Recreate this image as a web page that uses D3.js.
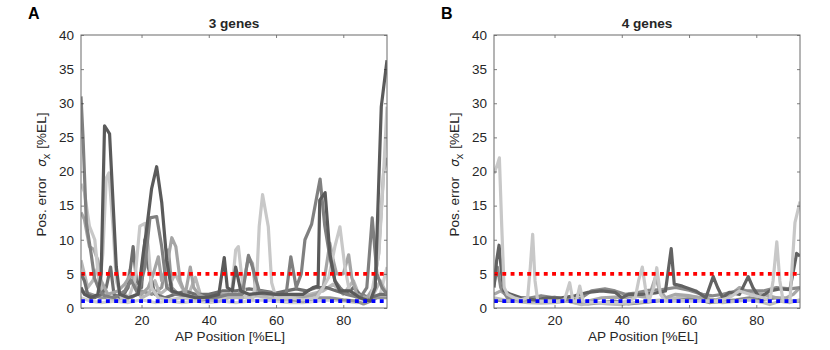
<!DOCTYPE html>
<html>
<head>
<meta charset="utf-8">
<script src="https://cdn.jsdelivr.net/npm/d3@7"></script>
<style>
  body { margin: 0; background: #fff; }
  svg { font-family: "Liberation Sans", Arial, Helvetica, sans-serif; }
  .tick text { fill: #262626; font-size: 13.5px; }
  .lbl { fill: #262626; font-size: 13.6px; }
</style>
</head>
<body>
<svg id="chart" width="830" height="350"></svg>
<script>
// axis ticks
var xTicks = [20, 40, 60, 80];
var yTicks = [0, 5, 10, 15, 20, 25, 30, 35, 40];
var titles = ["3 genes", "4 genes"];
var letters = ["A", "B"];
var redLevel = 5, blueLevel = 1;

// 3 genes: [AP position, error] vertices
var a1 = [[2,3],[3,2],[5,1.5],[7,2],[8,5],[9,26.7],[10.5,25.5],[12.5,6],[13.5,2],[16,1.5],[19,2],[20.5,8],[21.5,11.5],[23,17.5],[24.5,20.7],[26,15.5],[27.5,7],[29,2.5],[32,2],[36,1.5],[40,1.6],[43,2],[44.6,7.4],[45.5,3],[47,2.5],[48,6],[49.5,2.5],[52,2],[56,2.2],[60,2],[64,2],[68,2],[71,3],[72.5,3.2],[73,15.8],[74.6,16.9],[76,8],[77.5,4],[79,2.5],[82,2.5],[85,1.5],[88,1],[89.5,3],[91.3,29.5],[93,36.3]];
var a2 = [[2,31],[2.6,25],[3.6,12.4],[5,8],[6,4.4],[7.5,2.5],[9,1.8],[12,1.5],[15,2.5],[17,4],[19,2],[21,6],[22.5,13.2],[24.5,13.4],[26,9],[27.5,3],[30,2],[34,1.8],[38,1.5],[42,1.5],[46,2],[50,2],[51.8,7.7],[53,6],[55,2.5],[60,2],[63,2],[64.4,7.5],[66,3],[67.5,5],[68.6,10],[70.6,12.3],[73.1,18.9],[74.5,12],[76,7.5],[77.5,4],[79,3],[81,2],[85,1.5],[87,3],[88.6,13.2],[90,5],[91.5,3],[93,2]];
var a3 = [[2,18.2],[3,17],[4.5,12],[6.1,10],[7.5,3],[8.5,8],[9.5,19],[10.3,19.8],[11.5,12],[12.5,4],[14,1.5],[16,1.2],[18,4],[19.5,12],[21,12.4],[22,9],[23,3],[25,1.5],[28,1.2],[32,1.5],[36,1.2],[40,1.5],[44,1.5],[46.8,2.2],[48,8.5],[48.8,9],[49.8,4.6],[51,1.5],[53,1.2],[54.3,4.6],[55,12],[56,16.6],[57.7,11.9],[58.7,3.7],[60,1.5],[64,1.5],[68,1.2],[72,1.5],[74,3],[75.7,4.5],[77.5,9],[79,11.9],[80.4,6.3],[81.8,2.5],[84,1.5],[88,1],[90.6,8],[91.8,18],[93,29.5]];
var a4 = [[2,14],[3,13],[4.5,9],[5.8,8.6],[7,7],[8,4],[10,2],[13,2.5],[15,3.5],[17,5],[18.5,3],[20,2],[22,3],[23.5,5],[25,7.5],[26,4],[27.5,6],[29,10.3],[30.2,9],[31.5,4],[33,2],[34.5,6],[35.5,3],[37,2],[39,1.5],[41,1.5],[44,2],[47,2],[49,2],[50.5,4],[51.8,7.5],[53,6.5],[54,2.5],[57,2],[61,2],[64,1.5],[68,1.5],[72,2],[74,3],[76,9.5],[77,7],[78,5],[80,5],[81.6,7.8],[82.5,4.5],[84,2],[87,1.5],[89,3],[90.5,8],[92,20],[93,22]];
var a5 = [[2,5],[3,4],[4,2],[6,1.5],[8,2],[9.5,3],[10.8,6],[11.8,2],[14,1.5],[16,3],[17.5,9],[18.5,4],[20,3],[21,10],[22,6],[24,2],[27,1.5],[30,2],[33,2.5],[36,2],[40,2],[44,2.5],[48,2.5],[52,2.8],[56,2.5],[60,2.2],[63,2.5],[66,2.8],[69,2.5],[72,3],[75,3],[78,2.5],[81,2],[83,3],[85,2],[88,1.5],[91,2],[93,2]];
var a6 = [[2,7],[3,5],[4,3],[5.5,4],[7,6],[8,3],[10,1.5],[13,1.2],[15,2],[16.5,5.5],[18,3],[20,1.5],[22,2],[24,4],[25.5,2],[28,3],[30,5],[32,3],[34,2],[36,4.5],[37.5,2],[40,1.2],[43,1],[46,1.5],[50,1.5],[54,1.8],[58,1.5],[62,1.2],[66,1.5],[70,2],[74,2.5],[77,3.5],[80,2],[83,4],[85,1.5],[87,1],[89,2],[91,4],[93,2]];
var a7 = [[2,2.5],[5,2],[8,1.5],[11,1.5],[14,2],[17,1.5],[20,2.5],[23,2],[26,3],[28,8.5],[29,3],[31,2],[34,1.5],[38,1.2],[42,1.5],[46,1.8],[50,1.5],[54,1.8],[58,2],[62,1.5],[65,1.2],[68,1],[72,1.5],[76,1.5],[80,1.2],[84,1],[86,0.6],[88,1],[90,1.5],[93,1.5]];
var a8 = [[2,1.5],[5,1],[8,0.8],[12,1],[16,0.8],[20,1.2],[24,0.8],[28,1],[32,0.8],[36,1],[40,0.8],[44,1],[48,0.8],[52,1],[56,1.2],[60,1],[64,0.8],[68,0.8],[72,1],[76,1.2],[80,1],[84,0.8],[88,1],[91,2],[93,6]];

// 4 genes
var b1 = [[2,19.7],[3,21],[3.6,22],[4.3,12],[5,3],[6,2],[8,1.5],[10,1.2],[12,1.5],[12.8,6],[13.5,10.8],[14.2,4],[15,1],[18,1],[21,1],[23,1.2],[24.5,3.7],[25.5,1],[26.5,1],[27.5,3.2],[28.5,1],[31,0.8],[35,0.8],[39,0.8],[42,1],[44,1.5],[45,4],[46.1,6],[47,3],[48,1],[49.5,3],[50.4,5.9],[51.5,2],[53,1],[56,1],[60,1],[64,1],[68,1],[72,1.5],[75,2.5],[78,2],[82,1.5],[84,1],[85,4],[86.1,9.7],[87,4],[88,1],[90,1],[91.5,12.5],[93,15.6]];
var b2 = [[2,3],[2.8,7],[3.5,9.2],[4.3,5],[5,2.5],[7,2],[10,1.5],[14,1.2],[18,1.5],[22,1.5],[26,1.8],[30,2.3],[34,2.5],[38,2.3],[40,1.5],[42,2],[46,2],[50,2.2],[53,2.5],[54.7,8.7],[55.6,3.5],[58,3.2],[62,2.5],[65,1.5],[67.2,4.6],[68.5,3],[70,1.5],[72,2.3],[75,2],[77.6,4.6],[79,3],[81,1.5],[84,2.5],[87,2.8],[90,2.7],[92,8],[93,7.6]];
var b3 = [[2,3.5],[3,6],[4,3],[6,1.5],[9,1.5],[13,1.5],[16,1.8],[20,1.5],[25,1.2],[28,1.5],[31,2.5],[35,2.8],[38,2.5],[41,2],[44,2.2],[48,2.6],[52,2.7],[56,3],[60,2.6],[64,2],[67,1.8],[70,2],[74,2.5],[78,2.5],[82,2.5],[86,3],[90,2.8],[93,3]];
var b4 = [[2,2],[4,2.5],[6,1.8],[9,1.2],[12,1],[16,1.2],[20,1.6],[24,1],[27,0.8],[30,1],[34,1.5],[38,1.6],[41,1.5],[44,1.8],[48,1.5],[50,4.5],[51,3],[53,1.5],[56,2],[60,1.8],[64,1.5],[68,1.2],[72,1.8],[75,3],[78,2.2],[82,2],[86,1.5],[89,1.5],[91,2],[93,3]];
var b5 = [[2,1.5],[5,1.2],[8,1],[12,0.8],[16,0.7],[20,0.8],[24,1],[28,0.5],[32,0.8],[36,0.6],[40,0.5],[44,0.8],[48,1],[52,1.2],[56,1.5],[60,1.8],[63,1.5],[66,1],[70,0.8],[74,1],[78,1.2],[82,0.8],[84,0.5],[87,1],[90,0.8],[93,1.2]];
var b6 = [[2,1.2],[6,1],[10,1.2],[14,1],[18,1.3],[22,1.2],[26,0.8],[30,0.6],[34,0.8],[38,1],[42,0.6],[46,0.8],[50,1],[54,1.2],[58,1.5],[62,1.3],[66,0.8],[70,1],[74,1.2],[78,1.5],[82,1.2],[86,1.5],[90,1],[93,1]];

var panelA = [a8, a7, a6, a5, a4, a3, a2, a1];
var panelB = [b6, b5, b4, b3, b2, b1];
var greysA = ["#d0d0d0", "#959595", "#b8b8b8", "#6e6e6e", "#a5a5a5", "#c8c8c8", "#808080", "#5a5a5a"];
var greysB = ["#8a8a8a", "#bdbdbd", "#a8a8a8", "#8a8a8a", "#626262", "#c8c8c8"];

var svg = d3.select("#chart");
var panels = [
  {left: 81, data: panelA, greys: greysA},
  {left: 494, data: panelB, greys: greysB}
];
var plotTop = 35, h = 273, w = 306;

panels.forEach(function(p, i) {
  var x = d3.scaleLinear().domain([2, 93]).range([0, w]);
  var y = d3.scaleLinear().domain([0, 40]).range([h, 0]);

  var g = svg.append("g").attr("transform", "translate(" + p.left + "," + plotTop + ")");

  g.append("clipPath").attr("id", "clip" + i)
    .append("rect").attr("width", w).attr("height", h);

  var line = d3.line()
    .x(function(d) { return x(d[0]); })
    .y(function(d) { return y(d[1]); });

  var plot = g.append("g").attr("clip-path", "url(#clip" + i + ")");

  p.data.forEach(function(s, k) {
    plot.append("path")
      .attr("d", line(s))
      .attr("fill", "none")
      .attr("stroke", p.greys[k])
      .attr("stroke-width", 3.2)
      .attr("stroke-linejoin", "round");
  });

  // reference levels
  [[redLevel, "#ff0000"], [blueLevel, "#0000ff"]].forEach(function(r) {
    plot.append("line")
      .attr("x1", 0).attr("x2", w)
      .attr("y1", y(r[0])).attr("y2", y(r[0]))
      .attr("stroke", r[1])
      .attr("stroke-width", 3.8)
      .attr("stroke-dasharray", "3.9,4.4");
  });

  // axes, MATLAB style: inward ticks, box
  g.append("g").attr("transform", "translate(0," + h + ")")
    .call(d3.axisBottom(x).tickValues(xTicks).tickSizeInner(-3).tickSizeOuter(0).tickPadding(7));
  g.append("g")
    .call(d3.axisLeft(y).tickValues(yTicks).tickSizeInner(-3).tickSizeOuter(0).tickPadding(7));
  g.append("g")
    .call(d3.axisTop(x).tickValues(xTicks).tickSizeInner(-3).tickSizeOuter(0).tickFormat(""));
  g.append("g").attr("transform", "translate(" + w + ",0)")
    .call(d3.axisRight(y).tickValues(yTicks).tickSizeInner(-3).tickSizeOuter(0).tickFormat(""));
  g.selectAll(".domain").remove();
  g.selectAll(".tick line").attr("stroke", "#262626").attr("stroke-width", 0.6);
  g.selectAll(".tick text").attr("font-family", null).attr("font-size", null);

  g.append("rect")
    .attr("width", w).attr("height", h)
    .attr("fill", "none").attr("stroke", "#6a6a6a").attr("stroke-width", 1);

  g.append("text").attr("class", "lbl")
    .attr("x", w / 2).attr("y", -7)
    .attr("text-anchor", "middle").attr("font-weight", "bold")
    .text(titles[i]);

  g.append("text").attr("class", "lbl")
    .attr("x", w / 2 - 4).attr("y", h + 33)
    .attr("text-anchor", "middle")
    .text("AP Position [%EL]");

  var yl = g.append("text").attr("class", "lbl")
    .attr("transform", "translate(-35," + (h / 2 + 3) + ") rotate(-90)")
    .attr("text-anchor", "middle");
  yl.append("tspan").text("Pos. error");
  yl.append("tspan").attr("dx", 10).attr("font-style", "italic").attr("font-family", "'DejaVu Sans', sans-serif").attr("font-size", "12px").text("σ");
  yl.append("tspan").attr("dy", 4).attr("font-size", "11px").text("x");
  yl.append("tspan").attr("dx", 5).attr("dy", -4).text("[%EL]");

  svg.append("text")
    .attr("x", p.left - 53).attr("y", 19)
    .attr("font-weight", "bold").attr("font-size", "16px")
    .text(letters[i]);
});
</script>
</body>
</html>
